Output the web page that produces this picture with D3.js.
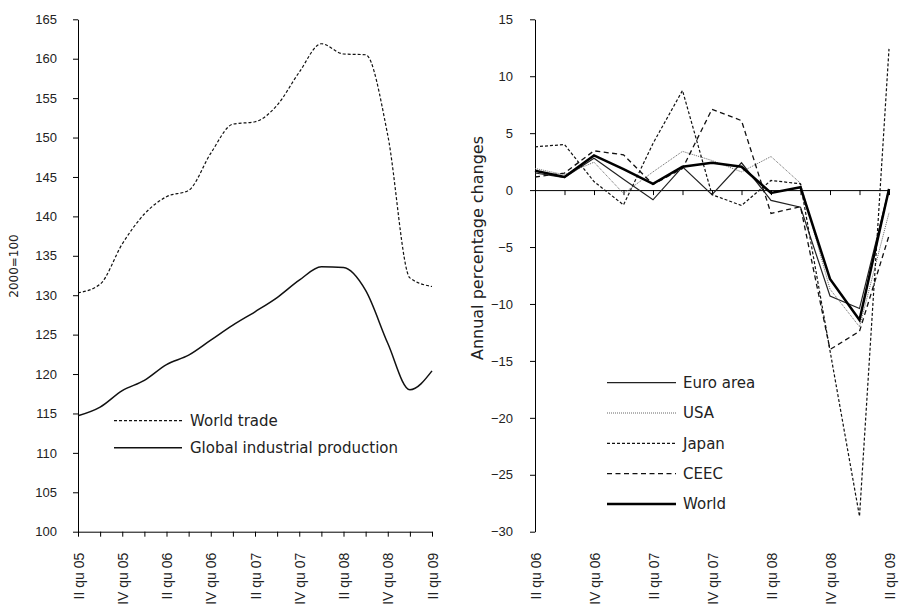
<!DOCTYPE html>
<html>
<head>
<meta charset="utf-8">
<script src="https://cdn.jsdelivr.net/npm/d3@7"></script>
<style>
  body { margin: 0; background: #fff; }
  svg { display: block; font-family: "DejaVu Sans", sans-serif; }
</style>
</head>
<body>
<svg id="chart" width="899" height="616"></svg>
<script>
// Left panel: levels, 2000=100, quarterly
const quartersLeft = ["II qu 05", "III qu 05", "IV qu 05", "I qu 06", "II qu 06", "III qu 06", "IV qu 06", "I qu 07",
  "II qu 07", "III qu 07", "IV qu 07", "I qu 08", "II qu 08", "III qu 08", "IV qu 08", "I qu 09", "II qu 09"];
const worldTrade = [130.3, 131.4, 136.5, 140.3, 142.5, 143.3, 148.0, 151.7, 152.0, 154.1, 158.3, 161.9, 160.6, 160.5, 150.3, 132.2, 131.1];
const industrialProd = [114.7, 115.8, 117.9, 119.2, 121.2, 122.4, 124.3, 126.2, 127.9, 129.7, 131.9, 133.6, 133.5, 130.6, 123.9, 118.0, 120.4];
const leftTicks = [100, 105, 110, 115, 120, 125, 130, 135, 140, 145, 150, 155, 160, 165];

// Right panel: annual percentage changes
const quartersRight = ["II qu 06", "III qu 06", "IV qu 06", "I qu 07", "II qu 07", "III qu 07", "IV qu 07",
  "I qu 08", "II qu 08", "III qu 08", "IV qu 08", "I qu 09", "II qu 09"];
const euroArea = [1.5, 1.1, 2.8, 0.95, -0.85, 2.05, -0.4, 2.4, -0.9, -1.5, -9.3, -10.4, 0.1];
const usa = [1.9, 1.35, 2.45, -0.3, 1.6, 3.4, 2.6, 1.6, 2.95, 0.6, -8.7, -12.0, -2.0];
const japan = [3.8, 4.0, 0.75, -1.3, 4.1, 8.75, -0.4, -1.35, 0.85, 0.55, -14.1, -28.65, 12.4];
const ceec = [1.15, 1.5, 3.45, 3.1, 0.5, 1.9, 7.1, 6.1, -2.05, -1.45, -14.0, -12.4, -4.0];
const world = [1.7, 1.15, 3.05, 1.85, 0.55, 2.05, 2.4, 2.05, -0.25, 0.25, -7.8, -11.4, 0.1];
const rightTicks = [-30, -25, -20, -15, -10, -5, 0, 5, 10, 15];

const svg = d3.select("#chart");
const plotTop = 19.3, plotBottom = 531.7;

function styleAxis(g) {
  g.selectAll("path, line").attr("stroke", "#000").attr("stroke-width", 1);
  g.selectAll("text").attr("fill", "#222").attr("font-size", 13);
}

function rotateLabels(g, off) {
  g.selectAll("text")
    .attr("transform", "rotate(-90)")
    .attr("text-anchor", "end")
    .attr("x", -off)
    .attr("y", 0)
    .attr("dy", "0.36em")
    .attr("font-size", 14);
}

// ---------- left panel ----------
const xL = d3.scalePoint().domain(quartersLeft).range([78, 432]);
const yL = d3.scaleLinear().domain([100, 165]).range([plotBottom, plotTop]);

const lineL = (vals) => d3.line()
  .x((d, i) => xL(quartersLeft[i]))
  .y((d) => yL(d))
  .curve(d3.curveMonotoneX)(vals);

svg.append("g")
  .attr("transform", `translate(78,0)`)
  .call(d3.axisLeft(yL).tickValues(leftTicks).tickSize(5).tickPadding(16).tickSizeOuter(0))
  .call(styleAxis);

svg.append("g")
  .attr("transform", `translate(0,${plotBottom})`)
  .call(d3.axisBottom(xL).tickSize(5).tickSizeOuter(0)
    .tickFormat((d, i) => (i % 2 ? "" : d)))
  .call(styleAxis)
  .call((g) => rotateLabels(g, 21));

svg.append("path")
  .attr("d", lineL(worldTrade))
  .attr("fill", "none").attr("stroke", "#111")
  .attr("stroke-width", 1.2).attr("stroke-dasharray", "3,2");

svg.append("path")
  .attr("d", lineL(industrialProd))
  .attr("fill", "none").attr("stroke", "#111").attr("stroke-width", 1.5);

svg.append("text")
  .attr("transform", "translate(18,266) rotate(-90)")
  .attr("text-anchor", "middle")
  .attr("font-size", 12).attr("fill", "#222")
  .text("2000=100");

// left legend
const legL = [
  { name: "World trade", dash: "3,2", w: 1.2 },
  { name: "Global industrial production", dash: null, w: 1.5 },
];
legL.forEach((d, i) => {
  const y = 420.7 + i * 27;
  svg.append("line").attr("x1", 114).attr("x2", 182).attr("y1", y).attr("y2", y)
    .attr("stroke", "#111").attr("stroke-width", d.w).attr("stroke-dasharray", d.dash);
  svg.append("text").attr("x", 190).attr("y", y).attr("dy", "0.36em")
    .attr("font-size", 15).attr("fill", "#222").text(d.name);
});

// ---------- right panel ----------
const xR = d3.scalePoint().domain(quartersRight).range([535, 889]);
const yR = d3.scaleLinear().domain([-30, 15]).range([plotBottom, plotTop]);

svg.append("g")
  .attr("transform", `translate(535,0)`)
  .call(d3.axisLeft(yR).tickValues(rightTicks).tickSize(5).tickPadding(17).tickSizeOuter(0))
  .call(styleAxis);

// zero line with quarter ticks
svg.append("g")
  .attr("transform", `translate(0,${yR(0)})`)
  .call(d3.axisBottom(xR).tickSize(5).tickSizeOuter(0).tickFormat(""))
  .call(styleAxis);

// category labels at the bottom
svg.append("g")
  .attr("transform", `translate(0,${plotBottom})`)
  .call(d3.axisBottom(xR).tickSize(0).tickFormat((d, i) => (i % 2 ? "" : d)))
  .call((g) => g.select(".domain").remove())
  .call(styleAxis)
  .call((g) => rotateLabels(g, 21));

const seriesR = [
  { name: "Euro area", vals: euroArea, color: "#222", w: 1.2, dash: null },
  { name: "USA", vals: usa, color: "#666", w: 1, dash: "1,1" },
  { name: "Japan", vals: japan, color: "#111", w: 1.2, dash: "3,2" },
  { name: "CEEC", vals: ceec, color: "#111", w: 1.3, dash: "5,3.5" },
  { name: "World", vals: world, color: "#000", w: 2.5, dash: null },
];

const lineR = d3.line()
  .x((d, i) => xR(quartersRight[i]))
  .y((d) => yR(d));

svg.append("g").selectAll("path")
  .data(seriesR)
  .join("path")
  .attr("d", (s) => lineR(s.vals))
  .attr("fill", "none")
  .attr("stroke", (s) => s.color)
  .attr("stroke-width", (s) => s.w)
  .attr("stroke-dasharray", (s) => s.dash)
  .attr("stroke-linejoin", "miter");

svg.append("text")
  .attr("transform", "translate(483,248) rotate(-90)")
  .attr("text-anchor", "middle")
  .attr("font-size", 16).attr("fill", "#222")
  .text("Annual percentage changes");

// right legend
seriesR.forEach((s, i) => {
  const y = 382.7 + i * 30.3;
  svg.append("line").attr("x1", 607).attr("x2", 676).attr("y1", y).attr("y2", y)
    .attr("stroke", s.color).attr("stroke-width", s.w).attr("stroke-dasharray", s.dash);
  svg.append("text").attr("x", 683).attr("y", y).attr("dy", "0.36em")
    .attr("font-size", 15).attr("fill", "#222").text(s.name);
});
</script>
</body>
</html>
